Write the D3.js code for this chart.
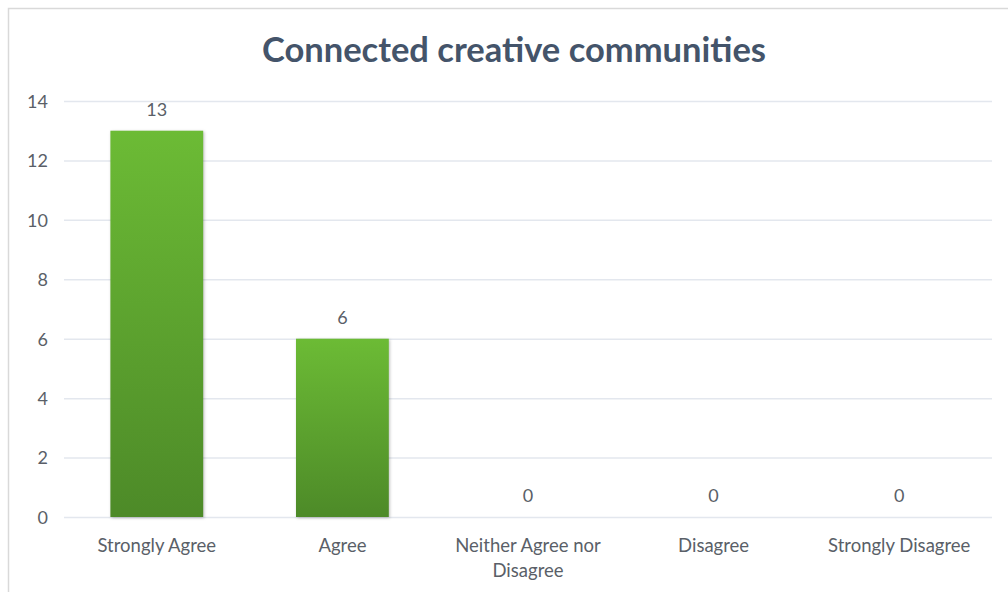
<!DOCTYPE html>
<html><head><meta charset="utf-8">
<script src="https://cdn.jsdelivr.net/npm/d3@7"></script>
<style>body{margin:0;background:#fff;}svg{display:block;}</style>
</head><body>
<svg id="c" width="1008" height="592"></svg>
<script>
const categories = ["Strongly Agree", "Agree", "Neither Agree nor Disagree", "Disagree", "Strongly Disagree"];
const values = [13, 6, 0, 0, 0];
const yTicks = [0, 2, 4, 6, 8, 10, 12, 14];
const title = "Connected creative communities";

const svg = d3.select("#c");
const font = "Lato, 'Open Sans', sans-serif";
const textCol = "#5a5f68";

// outer border
svg.append("rect").attr("x", 8.5).attr("y", 8.5).attr("width", 1010).attr("height", 600)
  .attr("fill", "#fff").attr("stroke", "#d9d9d9").attr("stroke-width", 1.5);

const x = d3.scaleBand().domain(categories).range([64, 992]).paddingInner(0.5).paddingOuter(0.25);
const y = d3.scaleLinear().domain([0, 14]).range([517, 101]);

const defs = svg.append("defs");
const g = defs.append("linearGradient").attr("id", "bar").attr("x1", 0).attr("y1", 0).attr("x2", 0).attr("y2", 1);
g.append("stop").attr("offset", "0%").attr("stop-color", "#6cbb35");
g.append("stop").attr("offset", "100%").attr("stop-color", "#4d8a28");

// gridlines
svg.append("g").selectAll("line").data(yTicks).join("line")
  .attr("x1", 64).attr("x2", 992)
  .attr("y1", d => y(d) + 0.5).attr("y2", d => y(d) + 0.5)
  .attr("stroke", "#e3e7ee").attr("stroke-width", 1.5);

// y axis labels
const yAxis = d3.axisLeft(y).tickValues(yTicks).tickSize(0).tickPadding(0);
const ya = svg.append("g").attr("transform", "translate(48,0)").call(yAxis);
ya.select(".domain").remove();
ya.selectAll("text").attr("font-family", font).attr("font-size", 18).attr("fill", textCol).attr("dy", "0.35em");

// bars
svg.append("g").selectAll("rect").data(values).join("rect")
  .attr("x", (d, i) => x(categories[i]))
  .attr("width", x.bandwidth())
  .attr("y", d => y(d))
  .attr("height", d => y(0) - y(d))
  .attr("fill", "url(#bar)")
  .style("filter", "drop-shadow(1px 1px 1.5px rgba(0,0,0,0.25))");

// data labels
svg.append("g").selectAll("text").data(values).join("text")
  .attr("x", (d, i) => x(categories[i]) + x.bandwidth() / 2)
  .attr("y", d => y(d) - 15)
  .attr("text-anchor", "middle")
  .attr("font-family", font).attr("font-size", 18).attr("fill", textCol)
  .text(d => d);

// x axis labels
const xAxis = d3.axisBottom(x).tickSize(0).tickPadding(0);
const xa = svg.append("g").attr("transform", "translate(0,517)").call(xAxis);
xa.select(".domain").remove();
xa.selectAll("text").each(function(d) {
  const t = d3.select(this);
  t.text(null).attr("font-family", font).attr("font-size", 18.5).attr("fill", textCol).attr("y", 0).attr("dy", null);
  const lines = d === "Neither Agree nor Disagree" ? ["Neither Agree nor", "Disagree"] : [d];
  lines.forEach((l, i) => t.append("tspan").attr("x", 0).attr("y", 35 + i * 25).text(l));
});

// title
svg.append("text").attr("x", 514).attr("y", 62).attr("text-anchor", "middle")
  .attr("font-family", font).attr("font-weight", "bold").attr("font-size", 34.5).attr("fill", "#44546a")
  .text(title);
</script>
</body></html>
